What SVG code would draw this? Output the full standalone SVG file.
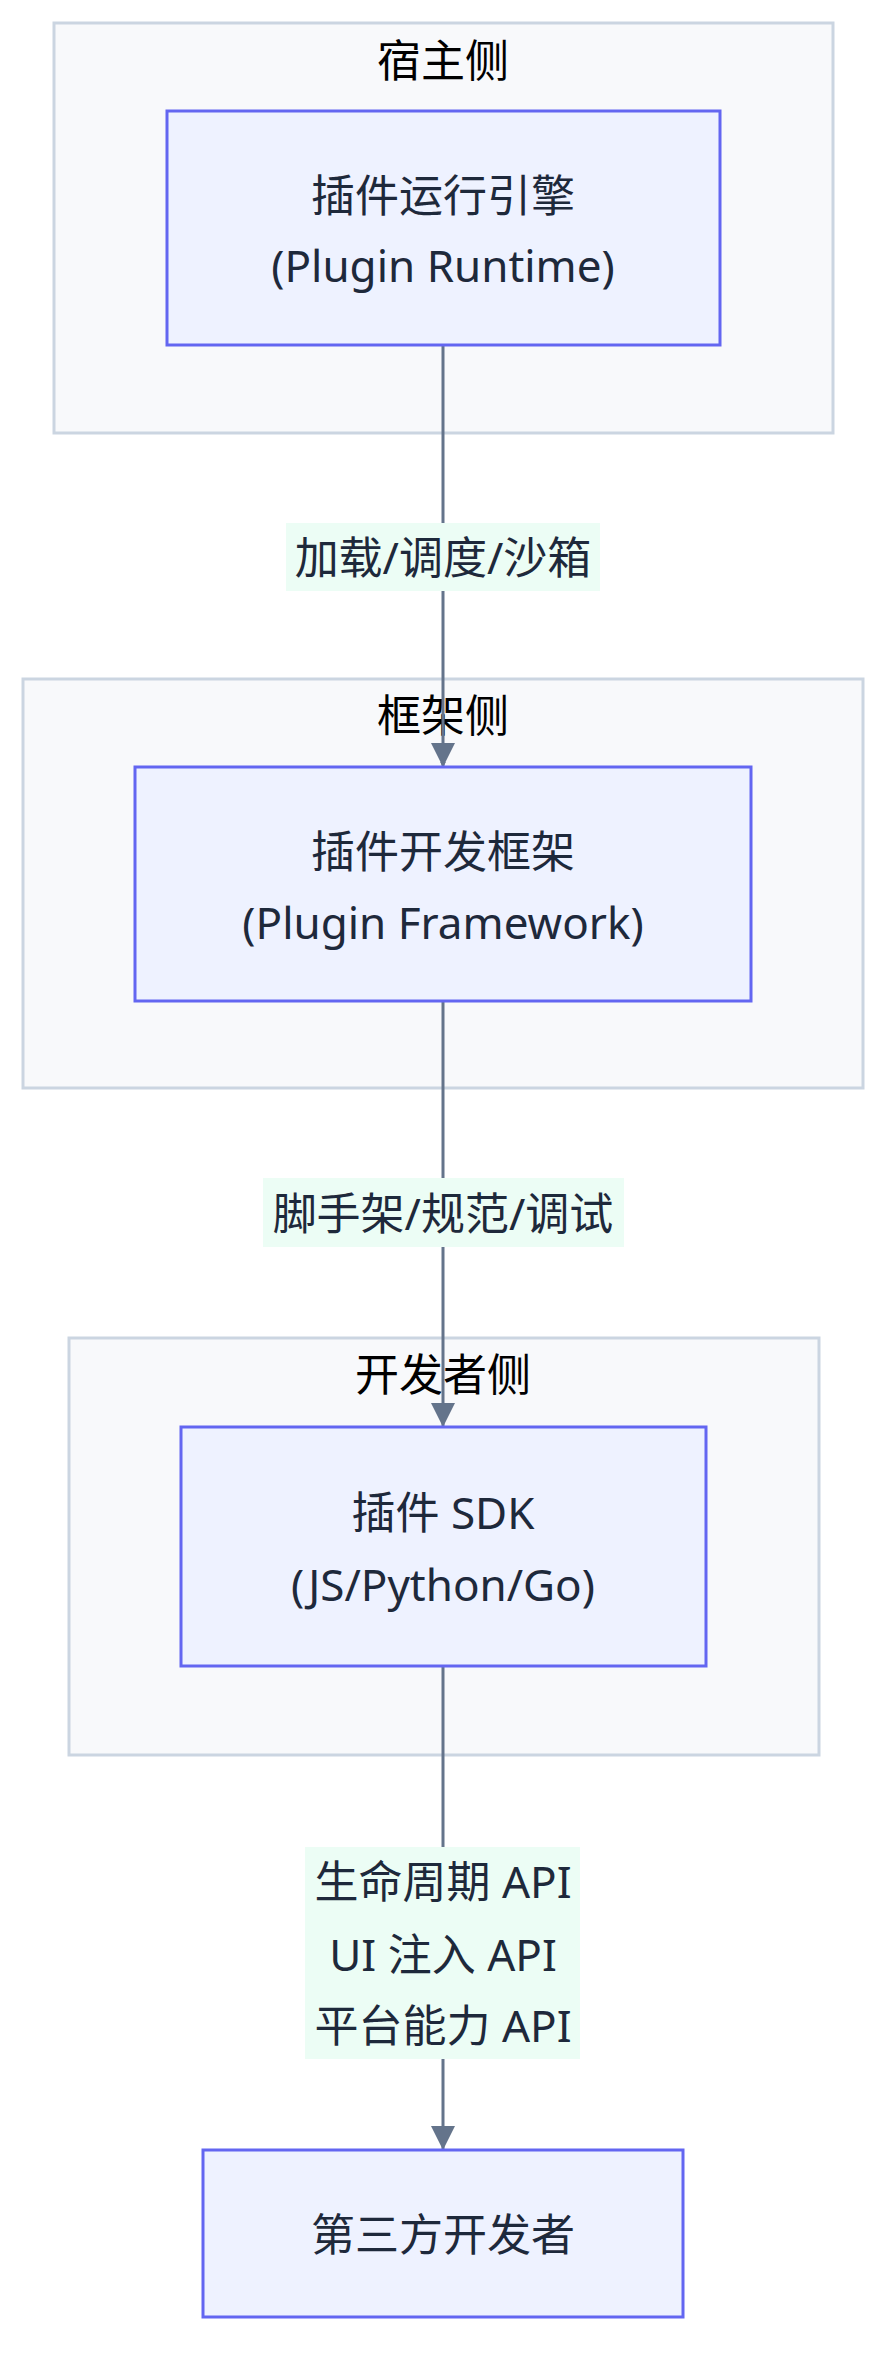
<svg xmlns="http://www.w3.org/2000/svg" width="891" height="2376" viewBox="0 0 891 2376">
<defs>
<style>
.grp{fill:#f8f9fb;stroke:#cbd5e1;stroke-width:3}
.node{fill:#eef2ff;stroke:#6366f1;stroke-width:3}
.lbl{fill:#ecfdf5}
text{font-family:"Noto Sans","Noto Sans CJK SC",sans-serif;font-size:44px;fill:#1e293b;text-anchor:middle;dominant-baseline:central}
.t{fill:#000}
.edge{stroke:#64748b;stroke-width:3;fill:none}
</style>
<marker id="arr" viewBox="0 0 10 10" refX="9" refY="5" markerWidth="6" markerHeight="6" markerUnits="userSpaceOnUse" orient="auto"><path d="M0,0L10,5L0,10z" fill="#64748b"/></marker>
</defs>
<g id="g1"><rect class="grp" x="54" y="23" width="779" height="410"/><text class="t" x="443" y="60">宿主侧</text></g>
<g id="g2"><rect class="grp" x="23" y="679" width="840" height="409"/><text class="t" x="443" y="715">框架侧</text></g>
<g id="g3"><rect class="grp" x="69" y="1338" width="750" height="417"/><text class="t" x="443" y="1374">开发者侧</text></g>
<g id="connectors">
<path class="edge" d="M443,345V767" marker-end="url(#arr)" style="stroke-width:3"/>
<path class="edge" d="M443,1001V1427"/>
<path class="edge" d="M443,1666V2150"/>
</g>
<g id="arrows" fill="#64748b">
<path d="M431,743L455,743L443,767z"/>
<path d="M431,1403L455,1403L443,1427z"/>
<path d="M431,2126L455,2126L443,2150z"/>
</g>
<g id="l1"><rect class="lbl" x="286" y="523" width="314" height="68"/><text x="443" y="557">加载/调度/沙箱</text></g>
<g id="l2"><rect class="lbl" x="263" y="1178" width="361" height="69"/><text x="443" y="1213">脚手架/规范/调试</text></g>
<g id="l3"><rect class="lbl" x="305" y="1847" width="275" height="212"/><text x="443" y="1881">生命周期 API</text><text x="443" y="1954">UI 注入 API</text><text x="443" y="2025">平台能力 API</text></g>
<g id="n1"><rect class="node" x="167" y="111" width="553" height="234"/><text x="443" y="195">插件运行引擎</text><text x="443" y="265">(Plugin Runtime)</text></g>
<g id="n2"><rect class="node" x="135" y="767" width="616" height="234"/><text x="443" y="851">插件开发框架</text><text x="443" y="922">(Plugin Framework)</text></g>
<g id="n3"><rect class="node" x="181" y="1427" width="525" height="239"/><text x="443" y="1512">插件 SDK</text><text x="443" y="1584">(JS/Python/Go)</text></g>
<g id="n4"><rect class="node" x="203" y="2150" width="480" height="167"/><text x="443" y="2234">第三方开发者</text></g>
</svg>
